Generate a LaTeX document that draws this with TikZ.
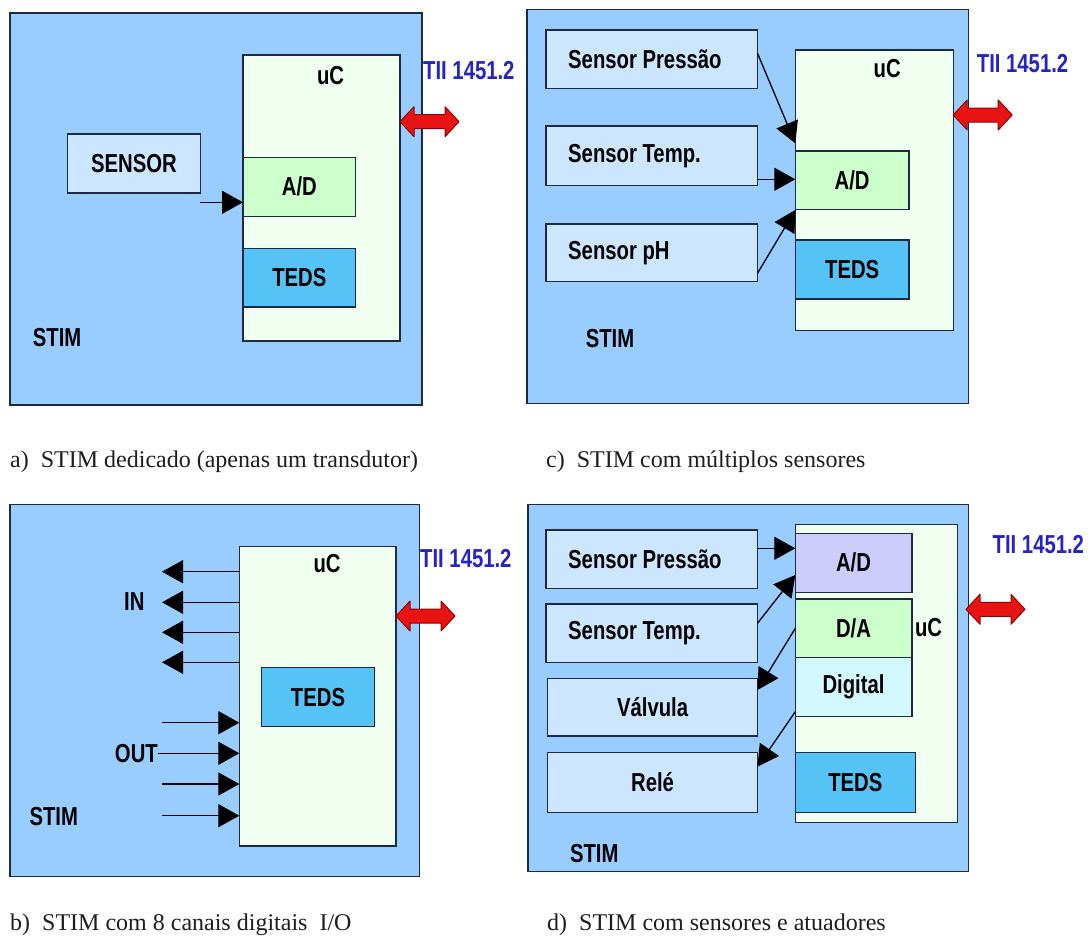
\documentclass[tikz,border=0pt]{standalone}
\usepackage{fontspec}
\setmainfont{Liberation Serif}
\newfontfamily\labfont[FakeStretch=0.78]{Liberation Sans}
\usetikzlibrary{arrows.meta}

\definecolor{stimfill}{RGB}{153,204,255}
\definecolor{ucfill}{RGB}{240,255,240}
\definecolor{sensfill}{RGB}{204,230,255}
\definecolor{adfill}{RGB}{204,255,204}
\definecolor{tedsfill}{RGB}{85,195,245}
\definecolor{adpurple}{RGB}{206,204,250}
\definecolor{digfill}{RGB}{212,248,255}
\definecolor{edgecol}{RGB}{30,42,64}
\definecolor{busblue}{RGB}{35,35,200}
\definecolor{busred}{RGB}{232,20,20}
\definecolor{busdark}{RGB}{150,0,0}
\definecolor{captext}{RGB}{30,30,30}

% box given by its top-left and bottom-right corners (x1,y1,x2,y2)
\newcommand\blkbox[7]{%
  \node[blk,#2,minimum width={(#5-#3)*1pt},minimum height={(#6-#4)*1pt}] (#1) at (#3,#4) {#7};}

\tikzset{
  labtext/.style={font=\labfont\bfseries\fontsize{26}{30}\selectfont, text=black},
  blk/.style={draw=edgecol, line width=1.4pt, inner sep=0pt, outer sep=0pt,
              anchor=north west, labtext},
  txt/.style={inner sep=0pt, labtext},
  conn/.style={draw=black, line width=1.3pt, -{Triangle[length=21pt,width=23pt]}},
  bus/.style={inner sep=0pt, anchor=west,
              font=\labfont\bfseries\fontsize{26}{30}\selectfont, text=busblue},
  captiontext/.style={inner sep=0pt, anchor=base west, text=captext,
              font=\fontsize{24}{28}\selectfont},
  busarrow/.pic={
    \filldraw[fill=busred, draw=busdark, line width=1pt, line join=round]
      (0,0) -- (14,-15) -- (14,-7) -- (45,-7) -- (45,-15) -- (59,0)
      -- (45,15) -- (45,7) -- (14,7) -- (14,15) -- cycle;}
}

\begin{document}
\begin{tikzpicture}[x=1pt,y=-1pt]
\fill[white] (0,0) rectangle (1090,942);
\useasboundingbox (0,0) rectangle (1090,942);

% ---------- a) dedicated STIM ----------
\blkbox{A}{fill=stimfill}{10}{13}{422}{405}{}
\blkbox{AuC}{fill=ucfill}{243}{55}{400}{341}{}
\node[txt] (AuCt) at (330.6,76) {uC};
\blkbox{Asen}{fill=sensfill}{67.5}{134}{200.4}{193}{SENSOR}
\blkbox{AAD}{fill=adfill}{243}{157.3}{355.7}{216.3}{A/D}
\blkbox{ATEDS}{fill=tedsfill}{243}{248.3}{355.7}{307}{TEDS}
\node[txt, anchor=west] (Astim) at (32.7,337.3) {STIM};
\node[bus] (Abus) at (423,71) {TII 1451.2};
\pic at (AuC.east |- 0,121.7) {busarrow};
\draw[conn] (Asen.east |- 0,202.3) -- (AuC.west |- 0,202.3);

% ---------- c) several sensors ----------
\blkbox{C}{fill=stimfill}{527}{9.3}{968.6}{403.3}{}
\blkbox{CuC}{fill=ucfill}{795.3}{50}{953.2}{330.7}{}
\node[txt] (CuCt) at (887.2,68.3) {uC};
\blkbox{Cp}{fill=sensfill}{546}{30}{757.5}{88.3}{}
\blkbox{Ct}{fill=sensfill}{546}{126}{757.5}{185.7}{}
\blkbox{CpH}{fill=sensfill}{546}{224}{757.5}{281.7}{}
\node[txt, anchor=west] (Cpt) at ([xshift=22pt]Cp.west) {Sensor Pressão};
\node[txt, anchor=west] (Ctt) at ([xshift=22pt]Ct.west) {Sensor Temp.};
\node[txt, anchor=west] (CpHt) at ([xshift=22pt]CpH.west) {Sensor pH};
\blkbox{CAD}{fill=adfill}{795.3}{151}{909}{209.3}{A/D}
\blkbox{CTEDS}{fill=tedsfill}{795.3}{240}{909}{299}{TEDS}
\node[txt, anchor=west] (Cstim) at (585.6,338.3) {STIM};
\node[bus] (Cbus) at (976.7,63.3) {TII 1451.2};
\pic at (CuC.east |- 0,115) {busarrow};
\draw[conn] (Cp.east |- 0,53.3) -- (CuC.west |- 0,143.3);
\draw[conn] (Ct.east |- 0,179.3) -- (CuC.west |- 0,179.3);
\draw[conn] (CpH.east |- 0,273.3) -- (CuC.west |- 0,210);

% ---------- b) eight digital channels ----------
\blkbox{B}{fill=stimfill}{10}{504.3}{419.4}{876.7}{}
\blkbox{BuC}{fill=ucfill}{239.3}{546.7}{396}{846}{}
\node[txt] (BuCt) at (327.1,564) {uC};
\blkbox{BTEDS}{fill=tedsfill}{261.7}{667.7}{374.3}{726.7}{TEDS}
\node[txt] (Bin) at (134.3,602) {IN};
\coordinate (bi1) at (162,571.7);
\coordinate (bi2) at (162,602.3);
\coordinate (bi3) at (162,632.3);
\coordinate (bi4) at (162,662.3);
\foreach \c in {bi1,bi2,bi3,bi4}
  \draw[conn] (BuC.west |- \c) -- (\c);
\node[txt, anchor=east] (Bout) at (158,753.3) {OUT};
\coordinate (bo1) at (161.8,722.7);
\coordinate (bo3) at (161.8,784);
\coordinate (bo4) at (161.8,815.7);
\foreach \c in {bo1,Bout.east,bo3,bo4}
  \draw[conn] (\c) -- (BuC.west |- \c);
\node[txt, anchor=west] (Bstim) at (29.3,816.7) {STIM};
\node[bus] (Bbus) at (420,558.3) {TII 1451.2};
\pic at (BuC.east |- 0,616) {busarrow};

% ---------- d) sensors and actuators ----------
\blkbox{D}{fill=stimfill}{528}{504.3}{968.6}{871.7}{}
\blkbox{DuC}{fill=ucfill}{795.3}{524.3}{957.4}{822.3}{}
\blkbox{DAD}{fill=adpurple}{795.3}{533.3}{911.8}{592.3}{A/D}
\blkbox{DDA}{fill=adfill}{795.3}{599}{911.8}{657.7}{D/A}
\blkbox{DDig}{fill=digfill}{795.3}{657.7}{911.8}{716.7}{Digital}
\blkbox{DTEDS}{fill=tedsfill}{795.3}{752.7}{915.3}{812.3}{TEDS}
\node[txt] (DuCt) at (928.6,627.3) {uC};
\blkbox{Dp}{fill=sensfill}{546}{530}{757.5}{588.3}{}
\blkbox{Dt}{fill=sensfill}{546}{604}{757.5}{662.3}{}
\blkbox{Dv}{fill=sensfill}{547.7}{678.3}{757.5}{736}{Válvula}
\blkbox{Dr}{fill=sensfill}{547.7}{752.7}{757.5}{812.3}{Relé}
\node[txt, anchor=west] (Dpt) at ([xshift=22pt]Dp.west) {Sensor Pressão};
\node[txt, anchor=west] (Dtt) at ([xshift=22pt]Dt.west) {Sensor Temp.};
\node[txt, anchor=west] (Dstim) at (569.8,853.3) {STIM};
\node[bus] (Dbus) at (992.5,545) {TII 1451.2};
\coordinate (Dbusstart) at (966,609.3);
\pic at (Dbusstart) {busarrow};
\draw[conn] (Dp.east |- 0,548.3) -- (DAD.west |- 0,548.3);
\draw[conn] (Dt.east |- 0,623.3) -- (DAD.west |- 0,575);
\draw[conn] (DDA.west |- 0,628.3) -- (Dv.east |- 0,690);
\draw[conn] (DDig.west |- 0,711.7) -- (Dr.east |- 0,766.7);

% ---------- captions ----------
\node[captiontext] (capA) at (10,467) {a)\ \ STIM dedicado (apenas um transdutor)};
\node[captiontext] (capC) at (546,467) {c)\ \ STIM com múltiplos sensores};
\node[captiontext] (capB) at (10,930) {b)\ \ STIM com 8 canais digitais\ \ I/O};
\node[captiontext] (capD) at (547,930) {d)\ \ STIM com sensores e atuadores};
\end{tikzpicture}
\end{document}
